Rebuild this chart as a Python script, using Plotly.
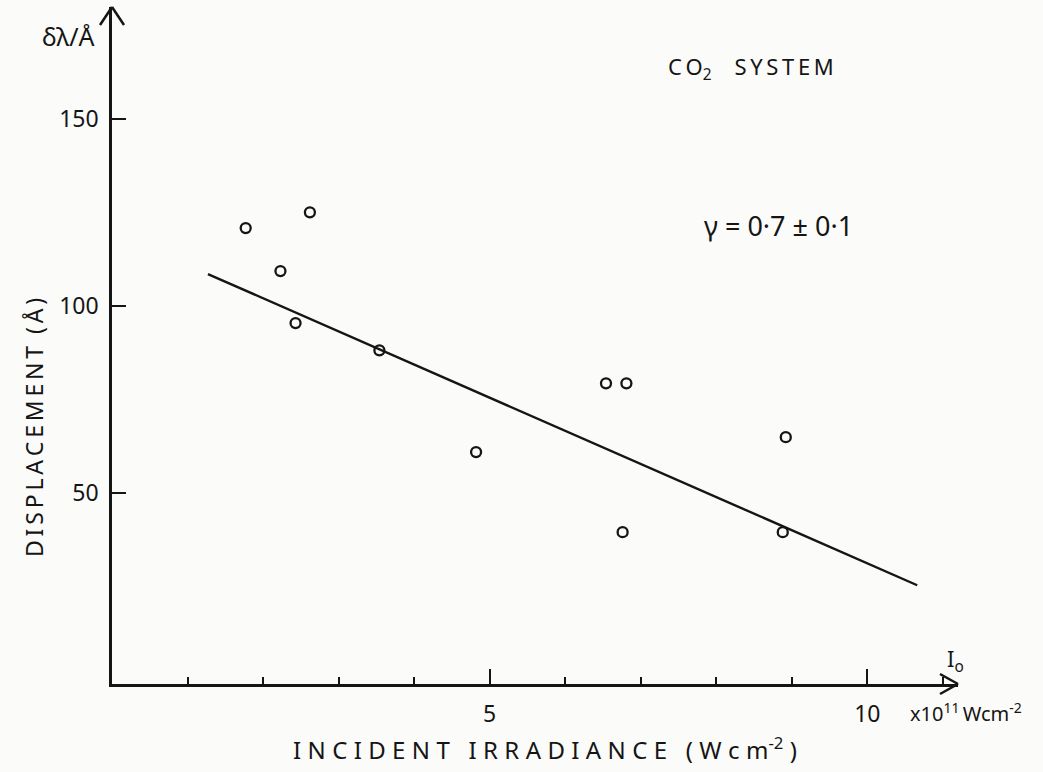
import plotly.graph_objects as go

# Measured points: incident irradiance (x10^11 W cm^-2) vs displacement (Å)
irradiance = [1.77, 2.23, 2.62, 2.43, 3.54, 4.82, 6.54, 6.81, 6.76, 8.92, 8.88]
displacement = [120.9, 109.4, 125.1, 95.5, 88.2, 61.0, 79.4, 79.4, 39.6, 65.0, 39.6]

# Fitted straight line, end points
fit_x = [1.27, 10.66]
fit_y = [108.6, 25.4]

# Axis ticks
x_major = [5, 10]
x_major_text = ["5", "10"]
y_ticks = [50, 100, 150]
y_tick_text = ["50", "100", "150"]

X_RANGE = [0, 11.2]
Y_RANGE = [-1, 180]

W, H = 1043, 772
M = dict(l=112, r=85, t=7, b=88)
PW = W - M["l"] - M["r"]
PH = H - M["t"] - M["b"]

INK = "#151515"
FONT = "Noto Sans"
THIN = "\u2009"
HAIR = "\u200a"


def px(x, y):
    """Pixel position on the page -> paper coordinates."""
    return (x - M["l"]) / PW, (H - M["b"] - y) / PH


def spaced(word, gap=THIN):
    """Hand-lettered look: small gaps between the letters."""
    return gap.join(word)


fig = go.Figure()

fig.add_trace(go.Scatter(
    x=fit_x, y=fit_y, mode="lines",
    line=dict(color=INK, width=2.4),
    hoverinfo="skip", showlegend=False,
))

fig.add_trace(go.Scatter(
    x=irradiance, y=displacement, mode="markers",
    marker=dict(symbol="circle-open", size=10, color=INK,
                line=dict(color=INK, width=2.3)),
    showlegend=False, cliponaxis=False,
))

fig.update_xaxes(
    range=X_RANGE, showgrid=False, zeroline=False,
    showline=True, linecolor=INK, linewidth=2.5,
    ticks="inside", ticklen=15, tickwidth=2, tickcolor=INK,
    tickvals=x_major, ticktext=x_major_text,
    ticklabelstandoff=8,
    tickfont=dict(family=FONT, size=23, color=INK),
    minor=dict(ticks="inside", dtick=1, tick0=0, ticklen=7,
               tickwidth=2, tickcolor=INK, showgrid=False),
)
fig.update_yaxes(
    range=Y_RANGE, showgrid=False, zeroline=False,
    showline=True, linecolor=INK, linewidth=2.5,
    ticks="inside", ticklen=14, tickwidth=2, tickcolor=INK,
    tickvals=y_ticks, ticktext=y_tick_text,
    ticklabelstandoff=6,
    tickfont=dict(family=FONT, size=23, color=INK),
)

# Open arrow heads at the ends of both axes
arm = dict(type="line", xref="paper", yref="paper", line=dict(color=INK, width=2.5))
for (tx, ty), (ax, ay) in [
    ((0, 1), (-12 / PW, -18 / PH)),
    ((0, 1), (12 / PW, -18 / PH)),
    ((1, 0), (-18 / PW, 10 / PH)),
    ((1, 0), (-18 / PW, -10 / PH)),
]:
    fig.add_shape(x0=tx, y0=ty, x1=tx + ax, y1=ty + ay, **arm)


def label(text, x, y, size=20, angle=0, xanchor="center"):
    xp, yp = px(x, y)
    fig.add_annotation(
        text=text, x=xp, y=yp, xref="paper", yref="paper", showarrow=False,
        textangle=angle, xanchor=xanchor, yanchor="middle",
        font=dict(family=FONT, size=size, color=INK),
    )


WIDE = THIN + HAIR

label("δλ/Å", 68, 36, size=25)
label(spaced("DISPLACEMENT") + "  " + spaced("(Å)"), 34, 428, size=23, angle=-90)
label(spaced("INCIDENT", WIDE) + "   " + spaced("IRRADIANCE", WIDE) + "   "
      + spaced("(Wcm", WIDE) + "<sup>-2</sup>" + WIDE + ")", 545, 748, size=24)
label("x10<sup>11</sup>" + THIN + "Wcm<sup>-2</sup>", 908, 712, size=20, xanchor="left")
label("I<sub>o</sub>", 955, 660, size=22)
label(spaced("CO") + "<sub>2</sub>    " + spaced("SYSTEM"), 751, 68, size=22)
label("γ = 0·7 ± 0·1", 778, 226, size=27)

fig.update_layout(
    width=W, height=H,
    margin=M,
    paper_bgcolor="#fbfbfa", plot_bgcolor="#fbfbfa",
    showlegend=False,
)

fig.write_html("out.html")
